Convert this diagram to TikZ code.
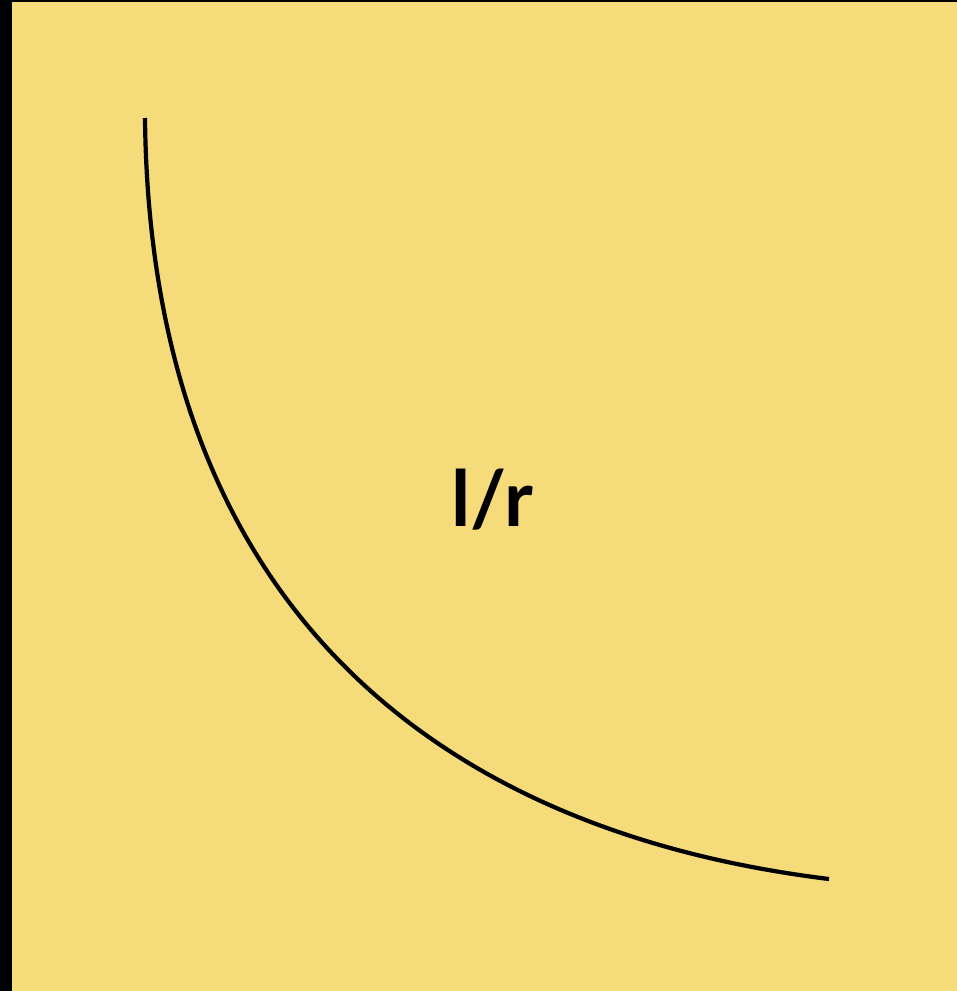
\documentclass[tikz,border=0pt]{standalone}
\usepackage{fontspec}
\setsansfont{Lato}
\usepackage{xcolor}
\definecolor{paper}{RGB}{245,219,122}
\usetikzlibrary{positioning}

\begin{document}
\begin{tikzpicture}[
	x=0.02cm, y=-0.02cm,
	kurve/.style={line width=2.4pt, draw=black, line cap=butt},
	beschriftung/.style={font=\sffamily\bfseries\fontsize{44}{44}\selectfont, text=black, inner sep=0pt}
	]
	% background and frame
	\fill[black] (0,0) rectangle (957,991);
	\fill[paper] (12,2) rectangle (957,991);
	\useasboundingbox (0,0) rectangle (957,991);

	\coordinate (start) at (145,118);
	\coordinate (ende) at (829,879);
	\draw[kurve] (start) .. controls (150,600) and (430,830) .. (ende);

	\node[beschriftung] (label) at (492,500) {l/r};
\end{tikzpicture}
\end{document}
